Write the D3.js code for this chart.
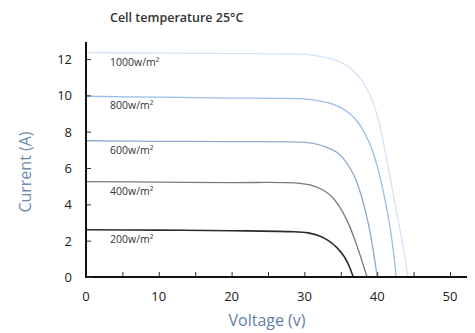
<!DOCTYPE html>
<html>
<head>
<meta charset="utf-8">
<script src="https://cdn.jsdelivr.net/npm/d3@7"></script>
<style>
  body { margin: 0; background: #fff; }
  text { font-family: "Open Sans", sans-serif; }
</style>
</head>
<body>
<svg id="chart" width="475" height="333"></svg>
<script>
// irradiance levels and their I-V curves, [voltage, current]
var labels = ["200w/m²", "400w/m²", "600w/m²", "800w/m²", "1000w/m²"];
var curve200 = [[0, 2.6], [10, 2.58], [20, 2.55], [28, 2.5], [30.5, 2.43], [32, 2.27], [33.3, 2.0], [34.5, 1.6], [35.5, 1.1], [36.2, 0.55], [36.7, 0]];
var curve400 = [[0, 5.25], [10, 5.22], [20, 5.2], [29, 5.17], [31, 5.05], [32.5, 4.8], [33.8, 4.4], [35, 3.75], [36.2, 2.8], [37.4, 1.5], [38.6, 0]];
var curve600 = [[0, 7.5], [10, 7.47], [20, 7.45], [29.5, 7.42], [31.5, 7.33], [33, 7.15], [34.5, 6.85], [35.7, 6.35], [36.8, 5.6], [37.8, 4.5], [38.8, 2.9], [39.4, 1.6], [40, 0]];
var curve800 = [[0, 9.95], [10, 9.9], [20, 9.85], [30, 9.8], [32, 9.7], [34, 9.5], [35.8, 9.12], [37.2, 8.6], [38.3, 7.9], [39.3, 7.0], [40.2, 5.8], [41, 4.4], [41.7, 2.9], [42.2, 1.5], [42.6, 0]];
var curve1000 = [[0, 12.35], [10, 12.32], [20, 12.3], [30, 12.25], [32.5, 12.12], [34.5, 11.9], [36.3, 11.5], [37.8, 10.85], [39.1, 9.95], [40.2, 8.6], [41, 7.1], [41.9, 5.2], [42.8, 3.3], [43.6, 1.6], [44.2, 0]];
var xTicks = [0, 10, 20, 30, 40, 50];
var yTicks = [0, 2, 4, 6, 8, 10, 12];

var curves = [curve200, curve400, curve600, curve800, curve1000];
var colors = ["#2a2a30", "#7a7a7c", "#8ea9cc", "#98bde9", "#d4e4f8"];
var widths = [1.6, 1.3, 1.3, 1.3, 1.3];

var svg = d3.select("#chart");

var x = d3.scaleLinear().domain([0, 50]).range([86, 450]);
var y = d3.scaleLinear().domain([0, 12]).range([277, 59]);

var line = d3.line()
  .x(function (d) { return x(d[0]); })
  .y(function (d) { return y(d[1]); })
  .curve(d3.curveCatmullRom.alpha(0.5));

// curves (lightest first so dark ones sit on top)
svg.append("g").selectAll("path")
  .data(curves.slice().reverse())
  .enter().append("path")
  .attr("d", line)
  .attr("fill", "none")
  .attr("stroke", function (d, i) { return colors[4 - i]; })
  .attr("stroke-width", function (d, i) { return widths[4 - i]; });

// curve labels
svg.append("g").selectAll("text")
  .data(curves)
  .enter().append("text")
  .attr("x", x(3.3))
  .attr("y", function (d) { return y(d[0][1]) + 13; })
  .attr("font-size", 10.5)
  .attr("fill", "#333")
  .text(function (d, i) { return labels[i]; });

// x axis
var xAxis = svg.append("g")
  .attr("transform", "translate(0," + y(0) + ")")
  .call(d3.axisTop(x).tickValues(d3.range(0, 51, 5)).tickSize(5).tickFormat(""));
xAxis.select(".domain").remove();
xAxis.selectAll(".tick line").attr("stroke", "#333");
svg.append("line")
  .attr("x1", x(0)).attr("x2", 467)
  .attr("y1", y(0)).attr("y2", y(0))
  .attr("stroke", "#111").attr("stroke-width", 2);

svg.append("g").selectAll("text")
  .data(xTicks)
  .enter().append("text")
  .attr("x", function (d) { return x(d); })
  .attr("y", 301)
  .attr("text-anchor", "middle")
  .attr("font-size", 13)
  .attr("fill", "#222")
  .text(function (d) { return d; });

// y axis
var yAxis = svg.append("g")
  .attr("transform", "translate(" + x(0) + ",0)")
  .call(d3.axisRight(y).tickValues(yTicks).tickSize(5).tickFormat(""));
yAxis.select(".domain").remove();
yAxis.selectAll(".tick line").attr("stroke", "#333");
svg.append("line")
  .attr("x1", x(0)).attr("x2", x(0))
  .attr("y1", 42).attr("y2", y(0) + 1)
  .attr("stroke", "#111").attr("stroke-width", 2);

svg.append("g").selectAll("text")
  .data(yTicks)
  .enter().append("text")
  .attr("x", 72)
  .attr("y", function (d) { return y(d) + 5; })
  .attr("text-anchor", "end")
  .attr("font-size", 13)
  .attr("fill", "#222")
  .text(function (d) { return d; });

// titles
svg.append("text")
  .attr("x", 110).attr("y", 22)
  .attr("font-size", 12.5)
  .attr("font-weight", 600)
  .attr("fill", "#333")
  .text("Cell temperature 25°C");

svg.append("text")
  .attr("x", 267).attr("y", 326)
  .attr("text-anchor", "middle")
  .attr("font-size", 16)
  .attr("fill", "#5f7ea6")
  .text("Voltage (v)");

svg.append("text")
  .attr("transform", "translate(31,172) rotate(-90)")
  .attr("text-anchor", "middle")
  .attr("font-size", 16)
  .attr("fill", "#6f8bb0")
  .text("Current (A)");
</script>
</body>
</html>
